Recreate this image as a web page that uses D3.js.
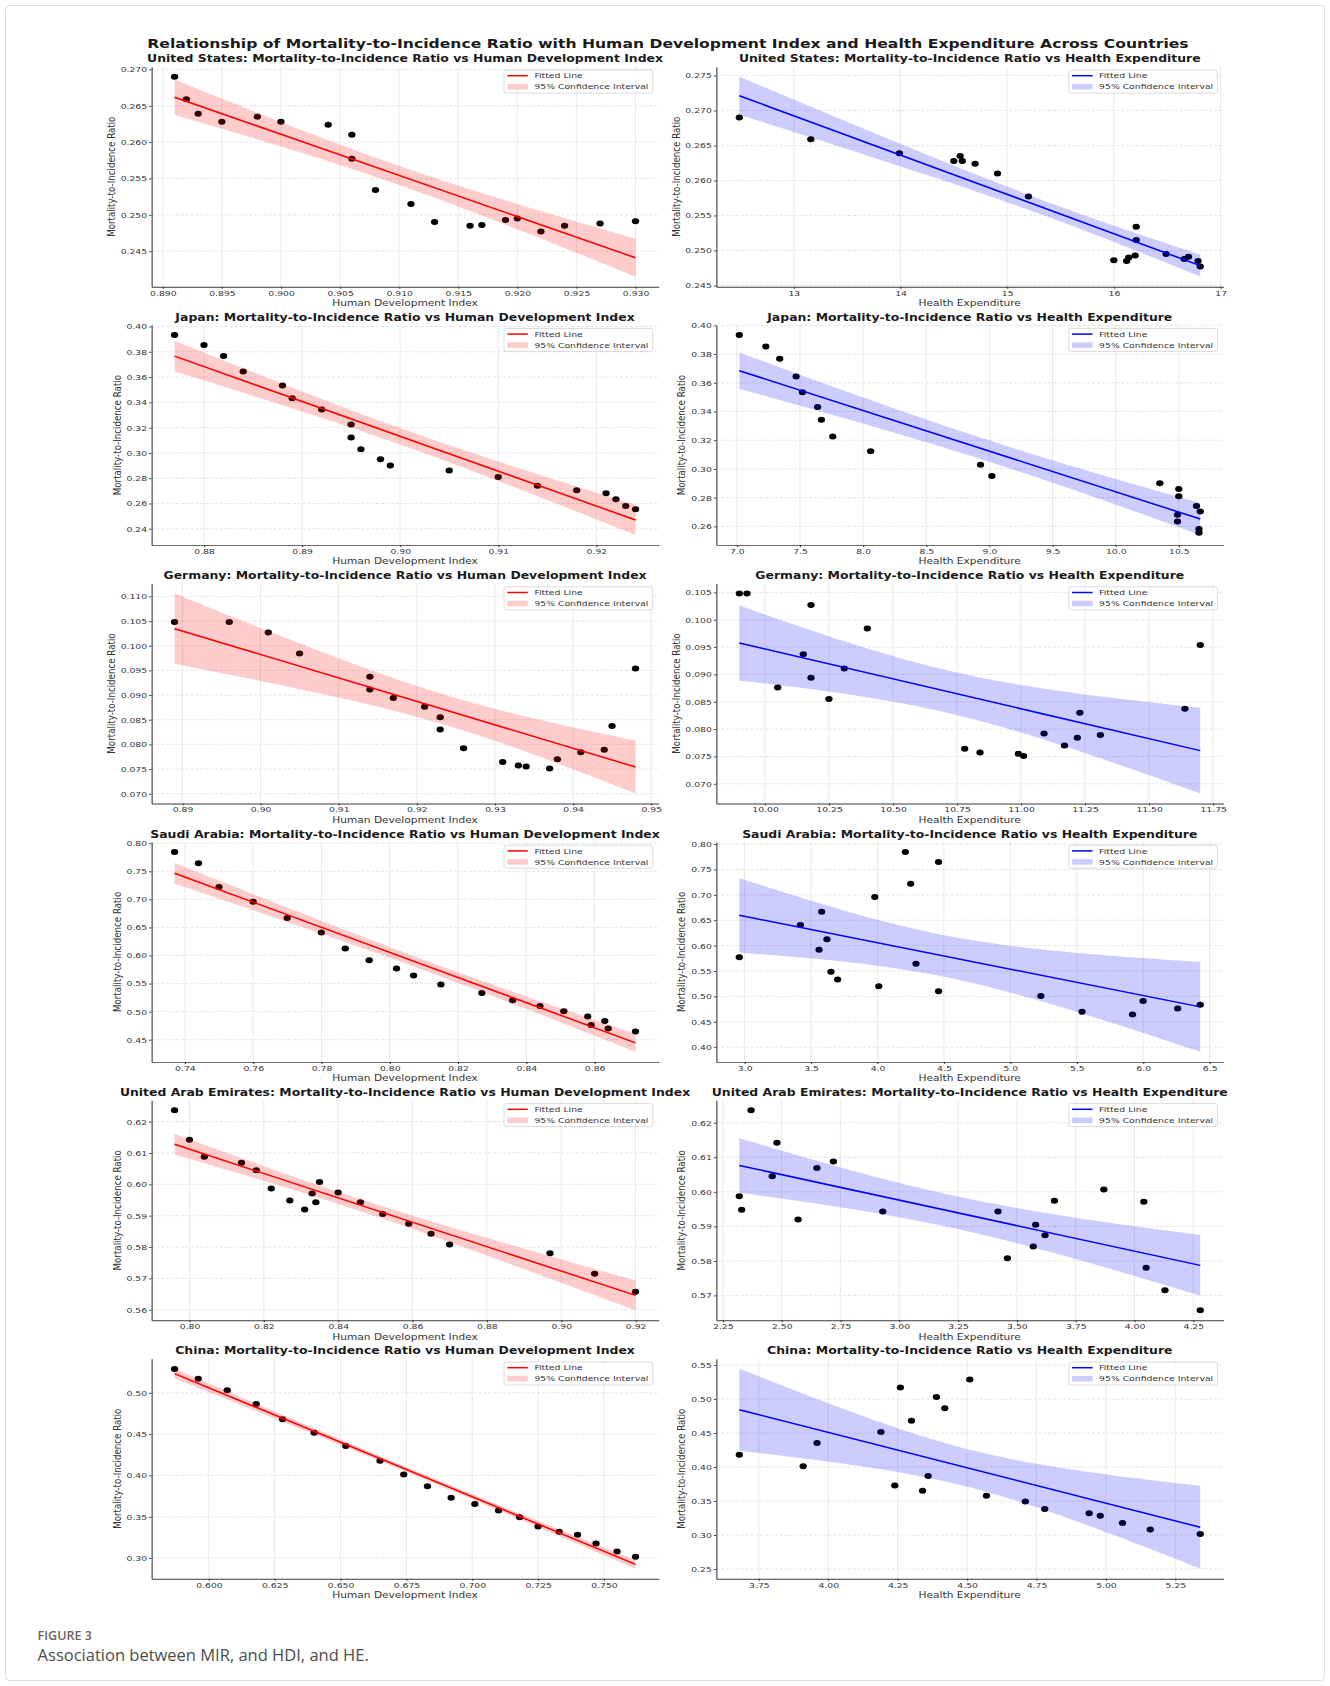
<!DOCTYPE html>
<html>
<head>
<meta charset="utf-8">
<script src="https://cdn.jsdelivr.net/npm/d3@7"></script>
<style>
  body { margin: 0; background: #fff; }
  #chart text { font-family: "DejaVu Sans", sans-serif; }
</style>
</head>
<body>
<svg id="chart"></svg>
<script>

  // ---------------------------//
  //            DATA            //
  // ---------------------------//

var countries = ["United States", "Japan", "Germany", "Saudi Arabia", "United Arab Emirates", "China"];

// mortality-to-incidence ratio, HDI and health expenditure, one entry per year
var usMir = [0.2690, 0.2659, 0.2639, 0.2628, 0.2635, 0.2628, 0.2624, 0.2610, 0.2577, 0.2534, 0.2515, 0.2490, 0.2485, 0.2486, 0.2493, 0.2495, 0.2477, 0.2485, 0.2488, 0.2491];
var usHdi = [0.891, 0.892, 0.893, 0.895, 0.898, 0.900, 0.904, 0.906, 0.906, 0.908, 0.911, 0.913, 0.916, 0.917, 0.919, 0.920, 0.922, 0.924, 0.927, 0.930];
var usHe  = [12.49, 13.16, 13.99, 14.50, 14.56, 14.58, 14.70, 14.91, 15.20, 16.21, 16.21, 16.14, 16.12, 16.00, 16.20, 16.49, 16.81, 16.79, 16.66, 16.70];

var jpMir = [0.3932, 0.3853, 0.3767, 0.3644, 0.3534, 0.3432, 0.3343, 0.3225, 0.3123, 0.3029, 0.2950, 0.2901, 0.2861, 0.2809, 0.2741, 0.2704, 0.2681, 0.2634, 0.2581, 0.2555];
var jpHdi = [0.877, 0.880, 0.882, 0.884, 0.888, 0.889, 0.892, 0.895, 0.895, 0.896, 0.898, 0.899, 0.905, 0.910, 0.914, 0.918, 0.921, 0.922, 0.923, 0.924];
var jpHe  = [7.02, 7.23, 7.34, 7.47, 7.52, 7.64, 7.67, 7.76, 8.06, 8.93, 9.02, 10.35, 10.50, 10.50, 10.64, 10.67, 10.49, 10.49, 10.66, 10.66];

var deMir = [0.1048, 0.1048, 0.1027, 0.0984, 0.0937, 0.0911, 0.0894, 0.0876, 0.0855, 0.0830, 0.0792, 0.0764, 0.0757, 0.0755, 0.0751, 0.0770, 0.0784, 0.0789, 0.0837, 0.0954];
var deHdi = [0.889, 0.896, 0.901, 0.905, 0.914, 0.914, 0.917, 0.921, 0.923, 0.923, 0.926, 0.931, 0.933, 0.934, 0.937, 0.938, 0.941, 0.944, 0.945, 0.948];
var deHe  = [9.90, 9.93, 10.18, 10.40, 10.15, 10.31, 10.18, 10.05, 10.25, 11.23, 11.09, 10.78, 10.84, 10.99, 11.01, 11.17, 11.22, 11.31, 11.64, 11.70];

var saMir = [0.7846, 0.7645, 0.7219, 0.6959, 0.6669, 0.6408, 0.6124, 0.5917, 0.5769, 0.5645, 0.5485, 0.5331, 0.5201, 0.5101, 0.5006, 0.4911, 0.4763, 0.4834, 0.4698, 0.4645];
var saHdi = [0.737, 0.744, 0.750, 0.760, 0.770, 0.780, 0.787, 0.794, 0.802, 0.807, 0.815, 0.827, 0.836, 0.844, 0.851, 0.858, 0.859, 0.863, 0.864, 0.872];
var saHe  = [4.21, 4.46, 4.25, 3.98, 3.58, 3.42, 3.62, 3.56, 2.96, 4.29, 3.65, 3.70, 4.01, 4.46, 5.23, 6.00, 6.26, 6.43, 5.54, 5.92];

var aeMir = [0.6236, 0.6142, 0.6088, 0.6069, 0.6045, 0.5987, 0.5948, 0.5920, 0.5971, 0.5943, 0.6007, 0.5974, 0.5943, 0.5905, 0.5874, 0.5842, 0.5808, 0.5780, 0.5715, 0.5657];
var aeHdi = [0.796, 0.800, 0.804, 0.814, 0.818, 0.822, 0.827, 0.831, 0.833, 0.834, 0.835, 0.840, 0.846, 0.852, 0.859, 0.865, 0.870, 0.897, 0.909, 0.920];
var aeHe  = [2.37, 2.48, 2.72, 2.65, 2.46, 2.32, 2.33, 2.57, 4.04, 2.93, 3.87, 3.66, 3.42, 3.58, 3.62, 3.57, 3.46, 4.05, 4.13, 4.28];

var cnMir = [0.5287, 0.5171, 0.5032, 0.4865, 0.4681, 0.4516, 0.4355, 0.4179, 0.4012, 0.3869, 0.3729, 0.3653, 0.3576, 0.3494, 0.3382, 0.3319, 0.3283, 0.3175, 0.3080, 0.3016];
var cnHdi = [0.587, 0.596, 0.607, 0.618, 0.628, 0.640, 0.652, 0.665, 0.674, 0.683, 0.692, 0.701, 0.710, 0.718, 0.725, 0.733, 0.740, 0.747, 0.755, 0.762];
var cnHe  = [4.51, 4.26, 4.39, 4.42, 4.30, 4.19, 3.96, 3.68, 3.91, 4.36, 4.24, 4.34, 4.57, 4.71, 4.78, 4.94, 4.98, 5.06, 5.16, 5.34];

// tick labels
var usHdiTicks = ["0.890", "0.895", "0.900", "0.905", "0.910", "0.915", "0.920", "0.925", "0.930"];
var usHeTicks  = ["13", "14", "15", "16", "17"];
var usMirTicks = ["0.245", "0.250", "0.255", "0.260", "0.265", "0.270", "0.275"];
var jpHdiTicks = ["0.88", "0.89", "0.90", "0.91", "0.92"];
var jpHeTicks  = ["7.0", "7.5", "8.0", "8.5", "9.0", "9.5", "10.0", "10.5"];
var jpMirTicks = ["0.24", "0.26", "0.28", "0.30", "0.32", "0.34", "0.36", "0.38", "0.40"];
var deHdiTicks = ["0.89", "0.90", "0.91", "0.92", "0.93", "0.94", "0.95"];
var deHeTicks  = ["10.00", "10.25", "10.50", "10.75", "11.00", "11.25", "11.50", "11.75"];
var deMirTicks = ["0.070", "0.075", "0.080", "0.085", "0.090", "0.095", "0.100", "0.105", "0.110"];
var saHdiTicks = ["0.74", "0.76", "0.78", "0.80", "0.82", "0.84", "0.86"];
var saHeTicks  = ["3.0", "3.5", "4.0", "4.5", "5.0", "5.5", "6.0", "6.5"];
var saMirTicks = ["0.40", "0.45", "0.50", "0.55", "0.60", "0.65", "0.70", "0.75", "0.80"];
var aeHdiTicks = ["0.80", "0.82", "0.84", "0.86", "0.88", "0.90", "0.92"];
var aeHeTicks  = ["2.25", "2.50", "2.75", "3.00", "3.25", "3.50", "3.75", "4.00", "4.25"];
var aeMirTicks = ["0.56", "0.57", "0.58", "0.59", "0.60", "0.61", "0.62"];
var cnHdiTicks = ["0.600", "0.625", "0.650", "0.675", "0.700", "0.725", "0.750"];
var cnHeTicks  = ["3.75", "4.00", "4.25", "4.50", "4.75", "5.00", "5.25"];
var cnMirTicks = ["0.25", "0.30", "0.35", "0.40", "0.45", "0.50", "0.55"];

var rows = [
  { mir: usMir, hdi: usHdi, he: usHe, hdiTicks: usHdiTicks, heTicks: usHeTicks, mirTicks: usMirTicks },
  { mir: jpMir, hdi: jpHdi, he: jpHe, hdiTicks: jpHdiTicks, heTicks: jpHeTicks, mirTicks: jpMirTicks },
  { mir: deMir, hdi: deHdi, he: deHe, hdiTicks: deHdiTicks, heTicks: deHeTicks, mirTicks: deMirTicks },
  { mir: saMir, hdi: saHdi, he: saHe, hdiTicks: saHdiTicks, heTicks: saHeTicks, mirTicks: saMirTicks },
  { mir: aeMir, hdi: aeHdi, he: aeHe, hdiTicks: aeHdiTicks, heTicks: aeHeTicks, mirTicks: aeMirTicks },
  { mir: cnMir, hdi: cnHdi, he: cnHe, hdiTicks: cnHdiTicks, heTicks: cnHeTicks, mirTicks: cnMirTicks }
];

  // ---------------------------//
  //         DIMENSIONS         //
  // ---------------------------//

var width = 1330;
var height = 1686;
var SX = 1.22;              // the published figure is stretched sideways
var colLeft = [124.2, 587.1];
var plotW = 415.6;
var rowTop = 66.7;
var rowStep = 258.4;
var plotH = 220;

var svg = d3.select("#chart")
  .attr("width", width)
  .attr("height", height)
  .attr("viewBox", [0, 0, width, height]);

svg.append("rect").attr("width", width).attr("height", height).attr("fill", "#fff");
svg.append("rect")
  .attr("x", 5.5).attr("y", 5.5)
  .attr("width", width - 11).attr("height", height - 11)
  .attr("rx", 4)
  .attr("fill", "none")
  .attr("stroke", "#dcdcdc");

var fig = svg.append("g").attr("transform", "scale(" + SX + ",1)");

fig.append("text")
  .attr("x", 547.5)
  .attr("y", 48)
  .attr("text-anchor", "middle")
  .style("font-size", "12.8px")
  .style("font-weight", "bold")
  .attr("fill", "#1a1a1a")
  .text("Relationship of Mortality-to-Incidence Ratio with Human Development Index and Health Expenditure Across Countries");

  // ---------------------------//
  //         REGRESSION         //
  // ---------------------------//

function tCrit(df) {
  var z = 1.959964;
  var g1 = (Math.pow(z, 3) + z) / 4;
  var g2 = (5 * Math.pow(z, 5) + 16 * Math.pow(z, 3) + 3 * z) / 96;
  var g3 = (3 * Math.pow(z, 7) + 19 * Math.pow(z, 5) + 17 * Math.pow(z, 3) - 15 * z) / 384;
  return z + g1 / df + g2 / (df * df) + g3 / (df * df * df);
}

function fitLine(xs, ys) {
  var n = xs.length;
  var mx = d3.mean(xs), my = d3.mean(ys);
  var sxx = d3.sum(xs, function(x) { return (x - mx) * (x - mx); });
  var sxy = d3.sum(xs, function(x, i) { return (x - mx) * (ys[i] - my); });
  var b = sxy / sxx, a = my - b * mx;
  var sse = d3.sum(xs, function(x, i) { return Math.pow(ys[i] - (a + b * x), 2); });
  var s = Math.sqrt(sse / (n - 2));
  var t = tCrit(n - 2);
  return {
    at: function(x) { return a + b * x; },
    half: function(x) { return t * s * Math.sqrt(1 / n + (x - mx) * (x - mx) / sxx); }
  };
}

  // ---------------------------//
  //           PANEL            //
  // ---------------------------//

function panel(left, top, xs, ys, xTicks, yTicks, color, title, xLabel) {
  var right = left + plotW, bottom = top + plotH;
  var fit = fitLine(xs, ys);
  var xExt = d3.extent(xs);
  var band = d3.range(0, 121).map(function(k) {
    var x = xExt[0] + (xExt[1] - xExt[0]) * k / 120;
    var m = fit.at(x), h = fit.half(x);
    return { x: x, lo: m - h, hi: m + h };
  });

  var xr = xExt[1] - xExt[0];
  var yMin = Math.min(d3.min(ys), d3.min(band, function(d) { return d.lo; }));
  var yMax = Math.max(d3.max(ys), d3.max(band, function(d) { return d.hi; }));
  var yr = yMax - yMin;

  var x = d3.scaleLinear()
    .domain([xExt[0] - 0.05 * xr, xExt[1] + 0.05 * xr])
    .range([left, right]);
  var y = d3.scaleLinear()
    .domain([yMin - 0.05 * yr, yMax + 0.05 * yr])
    .range([bottom, top]);

  function inside(sc, labels) {
    var dom = sc.domain(), eps = (dom[1] - dom[0]) * 1e-6;
    return labels.filter(function(l) { return +l >= dom[0] - eps && +l <= dom[1] + eps; });
  }
  var xt = inside(x, xTicks), yt = inside(y, yTicks);

  var g = fig.append("g");

  // grid
  g.selectAll(".vgrid").data(xt).enter().append("line")
    .attr("x1", function(d) { return x(+d); }).attr("x2", function(d) { return x(+d); })
    .attr("y1", top).attr("y2", bottom)
    .attr("stroke", "#e2e2e2").attr("stroke-width", 0.7);
  g.selectAll(".hgrid").data(yt).enter().append("line")
    .attr("x1", left).attr("x2", right)
    .attr("y1", function(d) { return y(+d); }).attr("y2", function(d) { return y(+d); })
    .attr("stroke", "#dcdcdc").attr("stroke-width", 0.7).attr("stroke-dasharray", "2.5,1.5");

  // points
  g.selectAll("circle").data(xs).enter().append("circle")
    .attr("cx", function(d) { return x(d); })
    .attr("cy", function(d, i) { return y(ys[i]); })
    .attr("r", 3)
    .attr("fill", "#000");

  // fitted line
  g.append("path")
    .datum(xExt)
    .attr("fill", "none")
    .attr("stroke", color)
    .attr("stroke-width", 1.5)
    .attr("d", d3.line().x(function(d) { return x(d); }).y(function(d) { return y(fit.at(d)); }));

  // confidence band
  g.append("path")
    .datum(band)
    .attr("fill", color)
    .attr("fill-opacity", 0.2)
    .attr("d", d3.area()
      .x(function(d) { return x(d.x); })
      .y0(function(d) { return y(d.lo); })
      .y1(function(d) { return y(d.hi); }));

  // axes
  var gx = g.append("g")
    .attr("transform", "translate(0," + bottom + ")")
    .call(d3.axisBottom(x)
      .tickValues(xt.map(Number))
      .tickFormat(function(d, i) { return xt[i]; })
      .tickSize(2).tickSizeOuter(0).tickPadding(1.6));
  var gy = g.append("g")
    .attr("transform", "translate(" + left + ",0)")
    .call(d3.axisLeft(y)
      .tickValues(yt.map(Number))
      .tickFormat(function(d, i) { return yt[i]; })
      .tickSize(2).tickSizeOuter(0).tickPadding(1.6));
  [gx, gy].forEach(function(a) {
    a.selectAll("path, line").attr("stroke", "#3a3a3a").attr("stroke-width", 0.9);
    a.selectAll("text").style("font-size", "7.6px").attr("fill", "#333");
  });

  g.append("text")
    .attr("x", (left + right) / 2)
    .attr("y", bottom + 19.4)
    .attr("text-anchor", "middle")
    .style("font-size", "8.7px")
    .attr("fill", "#333")
    .text(xLabel);

  var yw = gy.node().getBBox().width;
  g.append("text")
    .attr("transform", "translate(" + (left - yw - 7.4) + "," + ((top + bottom) / 2) + ") rotate(-90)")
    .attr("text-anchor", "middle")
    .attr("dominant-baseline", "central")
    .style("font-size", "8.7px")
    .attr("fill", "#333")
    .text("Mortality-to-Incidence Ratio");

  g.append("text")
    .attr("x", (left + right) / 2)
    .attr("y", top - 4.2)
    .attr("text-anchor", "middle")
    .style("font-size", "10.2px")
    .style("font-weight", "bold")
    .attr("fill", "#1a1a1a")
    .text(title);

  // legend
  var lg = g.append("g");
  var box = lg.append("rect");
  var t1 = lg.append("text").text("Fitted Line");
  var t2 = lg.append("text").text("95% Confidence Interval");
  lg.selectAll("text")
    .style("font-size", "7.6px")
    .attr("fill", "#333")
    .attr("dominant-baseline", "central");
  var tw = Math.max(t1.node().getComputedTextLength(), t2.node().getComputedTextLength());
  var bw = 24.9 + tw + 3.5;
  var bx = right - 4.8 - bw;
  box.attr("x", bx).attr("y", top + 3.3).attr("width", bw).attr("height", 23)
    .attr("rx", 2)
    .attr("fill", "#fff").attr("fill-opacity", 0.8)
    .attr("stroke", "#cfcfcf").attr("stroke-width", 0.7);
  lg.append("line")
    .attr("x1", bx + 2.7).attr("x2", bx + 19.5)
    .attr("y1", top + 9).attr("y2", top + 9)
    .attr("stroke", color).attr("stroke-width", 1.5);
  lg.append("rect")
    .attr("x", bx + 2.7).attr("y", top + 17.2)
    .attr("width", 16.8).attr("height", 5.6)
    .attr("fill", color).attr("fill-opacity", 0.2);
  t1.attr("x", bx + 24.9).attr("y", top + 9);
  t2.attr("x", bx + 24.9).attr("y", top + 20);
}

rows.forEach(function(r, i) {
  var top = rowTop + rowStep * i;
  panel(colLeft[0], top, r.hdi, r.mir, r.hdiTicks, r.mirTicks, "#ff0000",
    countries[i] + ": Mortality-to-Incidence Ratio vs Human Development Index", "Human Development Index");
  panel(colLeft[1], top, r.he, r.mir, r.heTicks, r.mirTicks, "#0000ff",
    countries[i] + ": Mortality-to-Incidence Ratio vs Health Expenditure", "Health Expenditure");
});

  // ---------------------------//
  //          CAPTION           //
  // ---------------------------//

svg.append("text")
  .attr("x", 37.6)
  .attr("y", 1640)
  .style("font-family", "'Open Sans', sans-serif")
  .style("font-size", "12.5px")
  .style("font-weight", "600")
  .attr("fill", "#6f6259")
  .text("FIGURE 3");

svg.append("text")
  .attr("x", 37.6)
  .attr("y", 1660.5)
  .style("font-family", "'Open Sans', sans-serif")
  .style("font-size", "16.5px")
  .attr("fill", "#4d4d4d")
  .text("Association between MIR, and HDI, and HE.");

</script>
</body>
</html>
